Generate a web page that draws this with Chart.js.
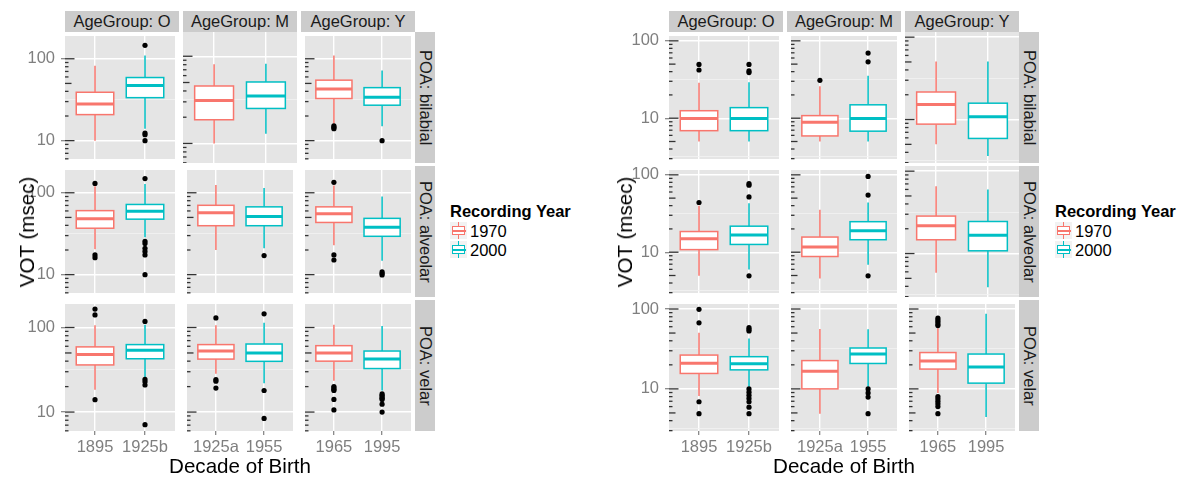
<!DOCTYPE html>
<html>
<head>
<meta charset="utf-8">
<title>VOT by decade of birth</title>
<script src="https://cdn.jsdelivr.net/npm/chart.js@4.4.1/dist/chart.umd.min.js"></script>
<style>
  body { margin: 0; background: #fff; font-family: "Liberation Sans", Arial, sans-serif; }
  #stage { position: relative; width: 1187px; height: 477px; overflow: hidden; }
  #stage canvas { position: absolute; }
  .strip { position: absolute; background: #CCCCCC; color: #1A1A1A; font-size: 16.5px; text-align: center; white-space: nowrap; }
  .strip.top { height: 21px; line-height: 21px; }
  .strip.side { width: 19.5px; line-height: 19.5px; writing-mode: vertical-rl; }
  .title { position: absolute; font-size: 20.6px; line-height: 24px; white-space: nowrap; color: #000; }
  .title.y { transform: translate(-50%, -50%) rotate(-90deg); }
  .title.x { transform: translate(-50%, -50%); }
  .lg { position: absolute; font-size: 16.5px; line-height: 20px; white-space: nowrap; color: #000; }
  .lg.ttl { font-weight: bold; }
  .key { position: absolute; width: 17px; height: 17.3px; background: #F2F2F2; }
  .key .wh { position: absolute; left: 7.8px; top: 0; width: 1.4px; height: 100%; }
  .key .bx { position: absolute; left: 1.5px; top: 4px; width: 11.4px; height: 7.6px; background: #fff; border: 1.3px solid; }
  .key .md { position: absolute; left: 1.5px; top: 8.3px; width: 14px; height: 1.8px; }
</style>
</head>
<body>
<div id="stage"></div>
<script>
const ageGroups = ['O', 'M', 'Y'];
const places = ['bilabial', 'alveolar', 'velar'];
const decadeLabels = [['1895', '1925b'], ['1925a', '1955'], ['1965', '1995']];
const recYears = ['1970', '2000'];
const yearColors = ['#F8766D', '#00BFC4'];

// [lower whisker, Q1, median, Q3, upper whisker]
// order: O/1970, O/2000, M/1970, M/2000, Y/1970, Y/2000
const leftBilabial = [[10, 20.8, 28, 39, 82], [14, 33.5, 47, 59, 110], [10, 18.7, 31, 45.6, 81], [12.9, 25.2, 35, 50.7, 82], [16.1, 32.7, 42.6, 54.8, 110], [15, 27.1, 34, 44.4, 72]];
const leftBilabialOut = [[], [146, 12.4, 11.8, 10], [], [], [15.2, 14.6, 14], [10]];
const leftAlveolar = [[20.4, 36.9, 48, 60.5, 120], [28.6, 47.6, 59.4, 72, 128], [20, 39.6, 56.9, 70.3, 124], [21, 39.6, 51.2, 67.3, 114], [22.9, 43.4, 55.5, 67.3, 123], [14.8, 29.4, 38, 48.7, 90]];
const leftAlveolarOut = [[130, 17.4, 16.1], [149, 25.5, 24, 21, 19.2, 17.4, 10], [], [17.1], [134, 17.4, 15.1], [10.8, 10.3, 9.9]];
const leftVelar = [[18.3, 36.1, 47.8, 59, 106], [25, 42.7, 53.7, 62.8, 108], [28.4, 42.3, 52.7, 62.8, 106], [21.9, 39.8, 50, 63.8, 114], [23.4, 40, 50, 61, 108], [18, 32.7, 42.3, 52.7, 104]];
const leftVelarOut = [[165, 141, 14], [118, 24.3, 22.8, 20.9, 7.1], [130, 24.2, 23.2, 19.2], [145, 18, 8.4], [20, 19.3, 18.6, 18, 14.1, 10.6], [16.4, 15.8, 15.1, 14.6, 14.1, 12.4, 10]];

const rightBilabial = [[5, 6.9, 9.9, 12.5, 28.7], [5, 6.9, 9.9, 13.7, 29.2], [5, 5.9, 8.85, 10.8, 25.9], [5, 6.8, 9.9, 14.9, 35.3], [5, 8.8, 15.2, 21.6, 50.7], [3.6, 5.9, 10.8, 15.8, 50.7]];
const rightBilabialOut = [[49.6, 42], [49.6, 40.8, 38.9], [30.9], [69.5, 53.5], [], []];
const rightAlveolar = [[4.95, 10.8, 14.9, 18.5, 39.9], [5.97, 12.6, 16.7, 21.7, 43], [4.56, 8.8, 11.7, 15.7, 35.4], [6.9, 14.5, 18.9, 24.8, 43.9], [5.86, 14.7, 21.7, 28.5, 65.6], [3.9, 10.8, 16.7, 24.5, 59.7]];
const rightAlveolarOut = [[43.9], [76.9, 73.5, 51.9, 4.95], [], [95.3, 54.8, 4.95], [], []];
const rightVelar = [[8.15, 15.6, 21, 26.5, 50.4], [10.6, 17.3, 20.6, 25.3, 42.7], [4.9, 10, 16.6, 22.6, 56.3], [10.6, 20.8, 27.3, 32.5, 55.7], [8.9, 17.7, 22.4, 28.5, 57.3], [4.45, 11.8, 18.8, 27.3, 87]];
const rightVelarOut = [[99, 67.1, 6.9, 4.9], [58.3, 55.5, 53, 10, 9.1, 8.3, 7.6, 6.9, 5.9, 4.9], [], [10, 8.9, 7.9, 4.9], [77, 73, 69, 65, 62, 8, 7.5, 7, 6.5, 6, 4.9], []];

const leftYLimits = [5.97, 189.7];
const rightYLimits = [2.97, 115.5];
const majorBreaks = [10, 100];
const minorBreaks = [3.162, 31.62];

// layout
const PANEL_X0 = 65, PANEL_W = 114, COL_STEP = 118;
const PANEL_Y0 = 32, PANEL_H = 131, ROW_STEP = 134;
const Y_AXIS_W = 60, X_AXIS_H = 34;
const BOX_WIDTH = 0.75;
const FONT = '"Liberation Sans", Arial, sans-serif';

const figures = [
  { ox: 0, limits: leftYLimits, stats: [leftBilabial, leftAlveolar, leftVelar],
    outliers: [leftBilabialOut, leftAlveolarOut, leftVelarOut], yTitleX: 27, legendX: 450 },
  { ox: 604, limits: rightYLimits, stats: [rightBilabial, rightAlveolar, rightVelar],
    outliers: [rightBilabialOut, rightAlveolarOut, rightVelarOut], yTitleX: 625, legendX: 1055 }
];

Chart.defaults.font.family = FONT;
Chart.defaults.animation = false;

// panel background, log ticks and the boxes themselves
const panelPlugin = {
  id: 'panelDecor',
  beforeDraw(chart) {
    const { ctx, chartArea: a } = chart;
    ctx.save();
    ctx.fillStyle = '#E5E5E5';
    ctx.fillRect(a.left, a.top, a.right - a.left, a.bottom - a.top);
    ctx.restore();
  },
  beforeDatasetsDraw(chart) {
    const { ctx, chartArea: a, scales: { x, y } } = chart;
    ctx.save();
    ctx.strokeStyle = '#333333';
    ctx.lineWidth = 1.3;
    for (let e = Math.floor(Math.log10(y.min)); e <= Math.ceil(Math.log10(y.max)); e++) {
      for (let m = 1; m <= 9; m++) {
        const v = m * Math.pow(10, e);
        if (v < y.min || v > y.max) continue;
        const len = m === 1 ? 9.5 : (m === 5 ? 6.5 : 3.5);
        const py = y.getPixelForValue(v);
        ctx.beginPath();
        ctx.moveTo(a.left, py);
        ctx.lineTo(a.left + len, py);
        ctx.stroke();
      }
    }

    chart.data.datasets.forEach(ds => {
      const [lo, q1, med, q3, hi] = ds.stats;
      const cx = x.getPixelForValue(ds.xPos);
      const x0 = x.getPixelForValue(ds.xPos - BOX_WIDTH / 2);
      const x1 = x.getPixelForValue(ds.xPos + BOX_WIDTH / 2);
      const yLo = y.getPixelForValue(lo), yQ1 = y.getPixelForValue(q1);
      const yMed = y.getPixelForValue(med), yQ3 = y.getPixelForValue(q3);
      const yHi = y.getPixelForValue(hi);
      ctx.strokeStyle = ds.boxColor;
      ctx.lineWidth = 1.5;
      ctx.beginPath();
      ctx.moveTo(cx, yHi); ctx.lineTo(cx, yQ3);
      ctx.moveTo(cx, yQ1); ctx.lineTo(cx, yLo);
      ctx.stroke();
      ctx.fillStyle = '#FFFFFF';
      ctx.fillRect(x0, yQ3, x1 - x0, yQ1 - yQ3);
      ctx.strokeRect(x0, yQ3, x1 - x0, yQ1 - yQ3);
      ctx.lineWidth = 3;
      ctx.beginPath();
      ctx.moveTo(x0, yMed); ctx.lineTo(x1, yMed);
      ctx.stroke();
    });
    ctx.restore();
  }
};

const stage = document.getElementById('stage');

function addDiv(cls, text, style) {
  const d = document.createElement('div');
  d.className = cls;
  d.textContent = text;
  Object.assign(d.style, style);
  stage.appendChild(d);
  return d;
}

// keep the chart area exactly on the panel: no label padding
function noPadding(axis) {
  axis.paddingTop = 0;
  axis.paddingBottom = 0;
  axis.paddingLeft = 0;
  axis.paddingRight = 0;
}

function makePanel(fig, r, c) {
  const hasY = c === 0, hasX = r === 2;
  const left = fig.ox + PANEL_X0 + c * COL_STEP;
  const top = PANEL_Y0 + r * ROW_STEP;
  const cv = document.createElement('canvas');
  cv.width = PANEL_W + (hasY ? Y_AXIS_W : 0);
  cv.height = PANEL_H + (hasX ? X_AXIS_H : 0);
  cv.style.left = (left - (hasY ? Y_AXIS_W : 0)) + 'px';
  cv.style.top = top + 'px';
  stage.appendChild(cv);

  const [yMin, yMax] = fig.limits;
  const isMajor = v => majorBreaks.includes(v);

  new Chart(cv, {
    type: 'scatter',
    data: {
      datasets: recYears.map((yr, k) => ({
        label: yr,
        xPos: k + 1,
        stats: fig.stats[r][c * 2 + k],
        boxColor: yearColors[k],
        data: fig.outliers[r][c * 2 + k].map(v => ({ x: k + 1, y: v })),
        pointRadius: 2.6,
        pointBackgroundColor: '#000000',
        pointBorderWidth: 0
      }))
    },
    options: {
      responsive: false,
      devicePixelRatio: 1,
      events: [],
      layout: { padding: 0 },
      plugins: { legend: { display: false }, tooltip: { enabled: false } },
      scales: {
        x: {
          type: 'linear',
          min: 0.4,
          max: 2.6,
          afterBuildTicks: axis => { axis.ticks = [{ value: 1 }, { value: 2 }]; },
          afterFit: axis => { axis.height = hasX ? X_AXIS_H : 0; noPadding(axis); },
          border: { display: false },
          grid: { color: '#FFFFFF', lineWidth: 1.4, drawTicks: hasX, tickLength: 4, tickColor: '#7F7F7F', tickWidth: 1.2 },
          ticks: {
            display: hasX, autoSkip: false, maxRotation: 0, padding: 3,
            color: '#7F7F7F', font: { family: FONT, size: 16.5 },
            callback: (v, i) => decadeLabels[c][i]
          }
        },
        y: {
          type: 'logarithmic',
          min: yMin,
          max: yMax,
          afterBuildTicks: axis => {
            axis.ticks = minorBreaks.concat(majorBreaks)
              .filter(v => v >= yMin && v <= yMax)
              .sort((a, b) => a - b)
              .map(v => ({ value: v }));
          },
          afterFit: axis => { axis.width = hasY ? Y_AXIS_W : 0; noPadding(axis); },
          border: { display: false },
          grid: {
            color: ctx => isMajor(ctx.tick.value) ? '#FFFFFF' : '#F2F2F2',
            lineWidth: ctx => isMajor(ctx.tick.value) ? 1.4 : 0.8,
            drawTicks: hasY,
            tickLength: 4,
            tickColor: ctx => isMajor(ctx.tick.value) ? '#7F7F7F' : 'rgba(0,0,0,0)',
            tickWidth: 1.2
          },
          ticks: {
            display: hasY, autoSkip: false, padding: 6,
            color: '#7F7F7F', font: { family: FONT, size: 16.5 },
            callback: v => isMajor(v) ? String(v) : ''
          }
        }
      }
    },
    plugins: [panelPlugin]
  });
}

figures.forEach(fig => {
  for (let r = 0; r < places.length; r++) {
    for (let c = 0; c < ageGroups.length; c++) makePanel(fig, r, c);
  }
  // strips
  ageGroups.forEach((g, c) => {
    addDiv('strip top', 'AgeGroup: ' + g, {
      left: (fig.ox + PANEL_X0 + c * COL_STEP) + 'px', top: (PANEL_Y0 - 21) + 'px', width: PANEL_W + 'px'
    });
  });
  const stripX = fig.ox + PANEL_X0 + 2 * COL_STEP + PANEL_W;
  places.forEach((p, r) => {
    addDiv('strip side', 'POA: ' + p, {
      left: stripX + 'px', top: (PANEL_Y0 + r * ROW_STEP) + 'px', height: PANEL_H + 'px'
    });
  });
  // axis titles
  const midY = PANEL_Y0 + (2 * ROW_STEP + PANEL_H) / 2;
  addDiv('title y', 'VOT (msec)', { left: fig.yTitleX + 'px', top: midY + 'px' });
  addDiv('title x', 'Decade of Birth', {
    left: (fig.ox + PANEL_X0 + (2 * COL_STEP + PANEL_W) / 2) + 'px', top: '465.5px'
  });
  // legend
  addDiv('lg ttl', 'Recording Year', { left: fig.legendX + 'px', top: '201px' });
  recYears.forEach((yr, k) => {
    const keyTop = 221.7 + k * 19;
    const key = addDiv('key', '', { left: fig.legendX + 'px', top: keyTop + 'px' });
    const wh = document.createElement('div'); wh.className = 'wh'; wh.style.background = yearColors[k];
    const bx = document.createElement('div'); bx.className = 'bx'; bx.style.borderColor = yearColors[k];
    const md = document.createElement('div'); md.className = 'md'; md.style.background = yearColors[k];
    key.append(wh, bx, md);
    addDiv('lg', yr, { left: (fig.legendX + 20) + 'px', top: (keyTop - 1.2) + 'px' });
  });
});
</script>
</body>
</html>
